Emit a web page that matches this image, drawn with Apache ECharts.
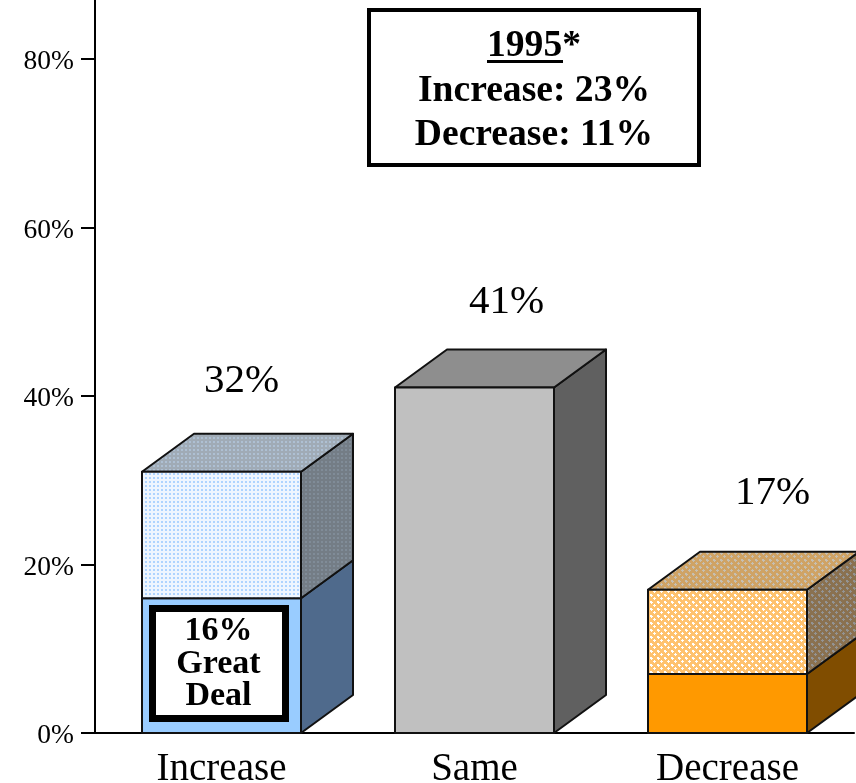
<!DOCTYPE html>
<html>
<head>
<meta charset="utf-8">
<style>html,body{margin:0;padding:0;background:#fff;overflow:hidden}#chart{width:856px;height:783px}</style>
<script src="https://cdn.jsdelivr.net/npm/echarts@6/dist/echarts.min.js"></script>
</head>
<body>
<div id="chart"></div>
<script>
const categories = ['Increase', 'Same', 'Decrease'];
const lowerValues = [16, 41, 7];
const upperValues = [15, 0, 10];
const totalLabels = ['32%', '41%', '17%'];
const totalLabelHeights = [41.8, 51.1, 28.5];
const totalLabelOffsets = [20, 32, 45];
const tickValues = [0, 20, 40, 60, 80];

const FONT = '"Liberation Serif", "Times New Roman", serif';
const BAR_W = 159, DEPTH_X = 52, DEPTH_Y = 38;

// small tiles for the dotted and crosshatched fills
function dots(bg, fg) {
  const c = document.createElement('canvas');
  c.width = c.height = 4;
  const g = c.getContext('2d');
  g.fillStyle = bg; g.fillRect(0, 0, 4, 4);
  g.fillStyle = fg;
  g.fillRect(1, 1, 2, 2);
  return { image: c, repeat: 'repeat' };
}
function hatch(bg, fg) {
  const c = document.createElement('canvas');
  c.width = c.height = 7;
  const g = c.getContext('2d');
  g.fillStyle = bg; g.fillRect(0, 0, 7, 7);
  g.fillStyle = fg;
  g.fillRect(2, 3, 3, 1);
  g.fillRect(3, 2, 1, 3);
  // wraps round the tile edge into a second, offset cross
  g.fillRect(0, 0, 1, 1);
  g.fillRect(6, 0, 1, 1);
  g.fillRect(0, 6, 1, 1);
  g.fillRect(6, 6, 1, 1);
  g.fillRect(1, 0, 1, 1);
  g.fillRect(0, 1, 1, 1);
  return { image: c, repeat: 'repeat' };
}

const lowerFaces = [
  { front: '#99ccff', side: '#4f6a8c', top: '#8e8e8e' },
  { front: '#c0c0c0', side: '#606060', top: '#8e8e8e' },
  { front: '#ff9900', side: '#804d00', top: '#8e8e8e' }
];
const upperFaces = [
  { front: dots('#eef6ff', '#aed4ff'), side: dots('#747d86', '#808c98'), top: dots('#a0abb6', '#aec0d3') },
  null,
  { front: hatch('#ffc26e', '#ffffff'), side: hatch('#8a7150', '#939393'), top: hatch('#cfa365', '#c6bfb2') }
];

function box(api, i, from, to, faces, withTop) {
  const p0 = api.coord([i, from]);
  const p1 = api.coord([i, to]);
  const x0 = p0[0] - BAR_W / 2, x1 = p0[0] + BAR_W / 2;
  const line = { stroke: '#111', lineWidth: 2, lineJoin: 'round' };
  const poly = function (pts, fill) {
    return { type: 'polygon', shape: { points: pts }, style: Object.assign({ fill: fill }, line) };
  };
  const out = [
    poly([[x1, p0[1]], [x1 + DEPTH_X, p0[1] - DEPTH_Y], [x1 + DEPTH_X, p1[1] - DEPTH_Y], [x1, p1[1]]], faces.side)
  ];
  if (withTop) {
    out.push(poly([[x0, p1[1]], [x0 + DEPTH_X, p1[1] - DEPTH_Y], [x1 + DEPTH_X, p1[1] - DEPTH_Y], [x1, p1[1]]], faces.top));
  }
  out.push(poly([[x0, p0[1]], [x1, p0[1]], [x1, p1[1]], [x0, p1[1]]], faces.front));
  return { type: 'group', children: out };
}

const chart = echarts.init(document.getElementById('chart'), null, { renderer: 'canvas' });
chart.setOption({
  backgroundColor: '#ffffff',
  animation: false,
  grid: { left: 95, right: 2, top: 0, bottom: 50, outerBoundsMode: 'none' },
  xAxis: {
    type: 'category',
    data: categories,
    axisTick: { show: false },
    axisLine: { lineStyle: { color: '#000', width: 2 } },
    axisLabel: { color: '#000', fontFamily: FONT, fontSize: 39, margin: 17 }
  },
  yAxis: {
    type: 'value',
    min: 0,
    max: 87,
    splitLine: { show: false },
    axisLine: { show: true, lineStyle: { color: '#000', width: 2 } },
    axisTick: { show: true, length: 14, customValues: tickValues, lineStyle: { color: '#000', width: 2 } },
    axisLabel: {
      color: '#000', fontFamily: FONT, fontSize: 27.5, margin: 21,
      verticalAlign: 'top',
      lineHeight: 6,
      customValues: tickValues,
      formatter: '{value}%'
    }
  },
  series: [
    {
      type: 'custom',
      name: 'lower',
      data: lowerValues,
      renderItem: function (params, api) {
        const i = params.dataIndex;
        return box(api, i, 0, lowerValues[i], lowerFaces[i], upperValues[i] === 0);
      }
    },
    {
      type: 'custom',
      name: 'upper',
      data: upperValues,
      renderItem: function (params, api) {
        const i = params.dataIndex;
        if (!upperFaces[i]) return null;
        return box(api, i, lowerValues[i], lowerValues[i] + upperValues[i], upperFaces[i], true);
      }
    },
    {
      type: 'custom',
      name: 'totals',
      data: totalLabels,
      renderItem: function (params, api) {
        const i = params.dataIndex;
        const p = api.coord([i, totalLabelHeights[i]]);
        return {
          type: 'text',
          style: {
            x: p[0] + totalLabelOffsets[i], y: p[1], text: totalLabels[i], align: 'center', verticalAlign: 'middle',
            fill: '#000', font: '41px ' + FONT
          }
        };
      }
    }
  ],
  graphic: [
    { type: 'rect', shape: { x: 369, y: 10, width: 330, height: 155 }, style: { fill: '#fff', stroke: '#000', lineWidth: 4 }, z: 10 },
    { type: 'text', style: { x: 534, y: 46, text: '1995*', align: 'center', verticalAlign: 'middle', fill: '#000', font: 'bold 37.6px ' + FONT }, z: 11 },
    { type: 'rect', shape: { x: 487, y: 60, width: 76, height: 3 }, style: { fill: '#000' }, z: 11 },
    { type: 'text', style: { x: 534, y: 91, text: 'Increase: 23%', align: 'center', verticalAlign: 'middle', fill: '#000', font: 'bold 37.6px ' + FONT }, z: 11 },
    { type: 'text', style: { x: 534, y: 135, text: 'Decrease: 11%', align: 'center', verticalAlign: 'middle', fill: '#000', font: 'bold 37.6px ' + FONT }, z: 11 },
    { type: 'rect', shape: { x: 152.5, y: 608.5, width: 133, height: 110 }, style: { fill: '#fff', stroke: '#000', lineWidth: 7 }, z: 10 },
    { type: 'text', style: { x: 218.5, y: 631, text: '16%', align: 'center', verticalAlign: 'middle', fill: '#000', font: 'bold 34px ' + FONT }, z: 11 },
    { type: 'text', style: { x: 218.5, y: 664, text: 'Great', align: 'center', verticalAlign: 'middle', fill: '#000', font: 'bold 34px ' + FONT }, z: 11 },
    { type: 'text', style: { x: 218.5, y: 696, text: 'Deal', align: 'center', verticalAlign: 'middle', fill: '#000', font: 'bold 34px ' + FONT }, z: 11 }
  ]
});
</script>
</body>
</html>
